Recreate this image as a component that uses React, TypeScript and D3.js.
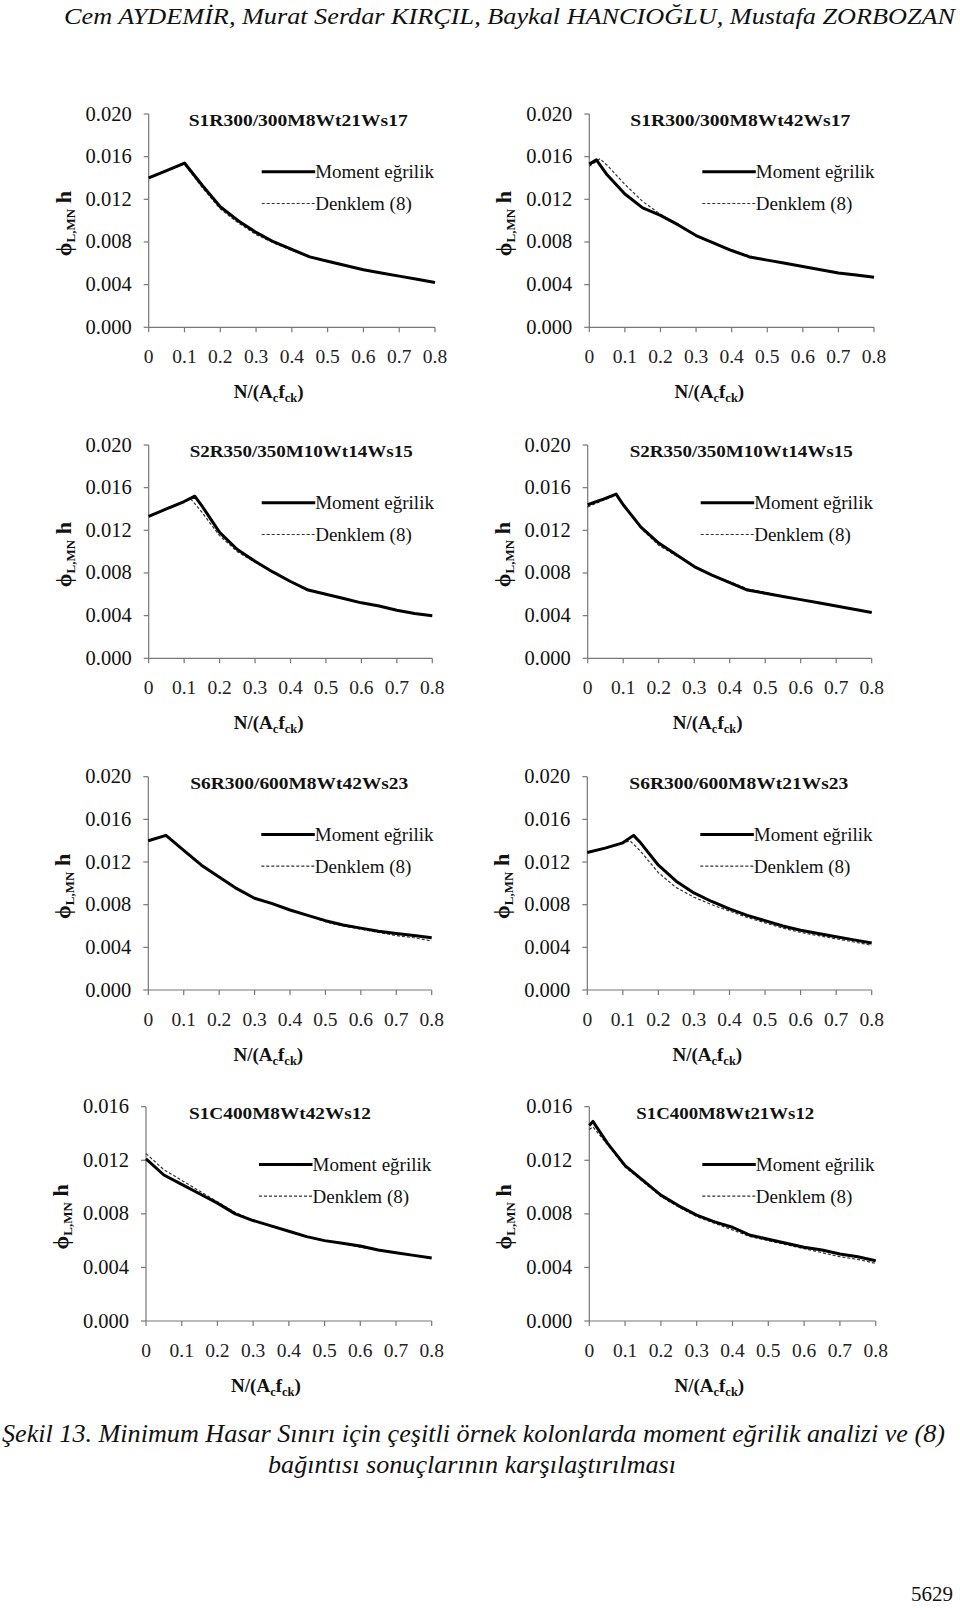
import React from "react";
import * as d3 from "d3";

// ---------- data ----------
const TITLES = [
  "S1R300/300M8Wt21Ws17",
  "S1R300/300M8Wt42Ws17",
  "S2R350/350M10Wt14Ws15",
  "S2R350/350M10Wt14Ws15",
  "S6R300/600M8Wt42Ws23",
  "S6R300/600M8Wt21Ws23",
  "S1C400M8Wt42Ws12",
  "S1C400M8Wt21Ws12",
];
const SERIES_NAMES = ["Moment eğrilik", "Denklem (8)"];
const X_TICKS = [0, 0.1, 0.2, 0.3, 0.4, 0.5, 0.6, 0.7, 0.8];
const Y_TICKS_A = [0, 0.004, 0.008, 0.012, 0.016, 0.02];
const Y_TICKS_B = [0, 0.004, 0.008, 0.012, 0.016];

const GRID = [0, 0.05, 0.1, 0.15, 0.2, 0.25, 0.3, 0.35, 0.4, 0.45, 0.5, 0.55, 0.6, 0.65, 0.7, 0.75, 0.8];
const TAIL = [0.2, 0.25, 0.3, 0.35, 0.4, 0.45, 0.5, 0.55, 0.6, 0.65, 0.7, 0.75, 0.8];

const P1_M_X = GRID;
const P1_M_Y = [0.0140, 0.0147, 0.0154, 0.0133, 0.0113, 0.0100, 0.0089, 0.0080, 0.0073, 0.0066, 0.0062, 0.0058, 0.0054, 0.0051, 0.0048, 0.0045, 0.0042];
const P1_D_X = GRID;
const P1_D_Y = [0.0140, 0.0147, 0.0153, 0.0131, 0.0111, 0.0098, 0.0087, 0.0079, 0.0072, 0.0066, 0.0062, 0.0058, 0.0054, 0.0051, 0.0048, 0.0045, 0.0042];

const P2_M_X = [0, 0.02, 0.05, 0.1, 0.15, ...TAIL];
const P2_M_Y = [0.0153, 0.0157, 0.0143, 0.0125, 0.0112, 0.0105, 0.0096, 0.0086, 0.0079, 0.0072, 0.0066, 0.0063, 0.0060, 0.0057, 0.0054, 0.0051, 0.0049, 0.0047];
const P2_D_X = [0, 0.03, 0.05, 0.1, 0.15, ...TAIL];
const P2_D_Y = [0.0151, 0.0158, 0.0152, 0.0134, 0.0118, 0.0106, 0.0096, 0.0086, 0.0079, 0.0072, 0.0067, 0.0063, 0.0060, 0.0057, 0.0054, 0.0051, 0.0049, 0.0047];

const P3_M_X = [0, 0.05, 0.1, 0.13, 0.15, ...TAIL];
const P3_M_Y = [0.0133, 0.0140, 0.0147, 0.0152, 0.0143, 0.0118, 0.0102, 0.0091, 0.0081, 0.0072, 0.0064, 0.0060, 0.0056, 0.0052, 0.0049, 0.0045, 0.0042, 0.0040];
const P3_D_X = [0, 0.05, 0.1, 0.12, 0.15, ...TAIL];
const P3_D_Y = [0.0133, 0.0140, 0.0147, 0.0149, 0.0137, 0.0115, 0.0100, 0.0090, 0.0081, 0.0072, 0.0064, 0.0060, 0.0056, 0.0052, 0.0049, 0.0045, 0.0042, 0.0040];

const P4_M_X = [0, 0.05, 0.08, 0.1, 0.15, ...TAIL];
const P4_M_Y = [0.0144, 0.0150, 0.0154, 0.0144, 0.0123, 0.0108, 0.0097, 0.0086, 0.0078, 0.0071, 0.0064, 0.0061, 0.0058, 0.0055, 0.0052, 0.0049, 0.0046, 0.0043];
const P4_D_X = [0, 0.05, 0.08, 0.1, 0.15, ...TAIL];
const P4_D_Y = [0.0142, 0.0149, 0.0153, 0.0144, 0.0122, 0.0106, 0.0096, 0.0086, 0.0078, 0.0072, 0.0065, 0.0062, 0.0058, 0.0055, 0.0052, 0.0049, 0.0046, 0.0043];

const P5_M_X = GRID;
const P5_M_Y = [0.0140, 0.0145, 0.0131, 0.0117, 0.0106, 0.0095, 0.0086, 0.0081, 0.0075, 0.0070, 0.0065, 0.0061, 0.0058, 0.0055, 0.0053, 0.0051, 0.0049];
const P5_D_X = GRID;
const P5_D_Y = [0.0140, 0.0145, 0.0131, 0.0117, 0.0106, 0.0095, 0.0086, 0.0081, 0.0075, 0.0070, 0.0064, 0.0060, 0.0057, 0.0054, 0.0051, 0.0049, 0.0046];

const P6_M_X = [0, 0.05, 0.1, 0.13, 0.15, ...TAIL];
const P6_M_Y = [0.0129, 0.0133, 0.0138, 0.0145, 0.0138, 0.0117, 0.0102, 0.0091, 0.0083, 0.0076, 0.0070, 0.0065, 0.0060, 0.0056, 0.0053, 0.0050, 0.0047, 0.0044];
const P6_D_X = [0, 0.05, 0.1, 0.12, 0.15, ...TAIL];
const P6_D_Y = [0.0129, 0.0133, 0.0138, 0.0140, 0.0130, 0.0110, 0.0096, 0.0087, 0.0080, 0.0074, 0.0068, 0.0063, 0.0058, 0.0054, 0.0051, 0.0048, 0.0045, 0.0042];

const P7_M_X = GRID;
const P7_M_Y = [0.0121, 0.0109, 0.0102, 0.0095, 0.0088, 0.0080, 0.0075, 0.0071, 0.0067, 0.0063, 0.0060, 0.0058, 0.0056, 0.0053, 0.0051, 0.0049, 0.0047];
const P7_D_X = GRID;
const P7_D_Y = [0.0125, 0.0113, 0.0105, 0.0097, 0.0089, 0.0081, 0.0075, 0.0071, 0.0067, 0.0063, 0.0060, 0.0058, 0.0055, 0.0053, 0.0051, 0.0049, 0.0047];

const P8_M_X = [0, 0.01, 0.05, 0.1, 0.15, ...TAIL];
const P8_M_Y = [0.0146, 0.0149, 0.0133, 0.0116, 0.0105, 0.0094, 0.0086, 0.0079, 0.0074, 0.0070, 0.0064, 0.0061, 0.0058, 0.0055, 0.0053, 0.0050, 0.0048, 0.0045];
const P8_D_X = [0, 0.01, 0.05, 0.1, 0.15, ...TAIL];
const P8_D_Y = [0.0143, 0.0145, 0.0132, 0.0115, 0.0104, 0.0093, 0.0085, 0.0078, 0.0073, 0.0068, 0.0063, 0.0060, 0.0057, 0.0054, 0.0051, 0.0048, 0.0046, 0.0043];

const MOMENT = [
  [P1_M_X, P1_M_Y], [P2_M_X, P2_M_Y], [P3_M_X, P3_M_Y], [P4_M_X, P4_M_Y],
  [P5_M_X, P5_M_Y], [P6_M_X, P6_M_Y], [P7_M_X, P7_M_Y], [P8_M_X, P8_M_Y],
];
const DENKLEM = [
  [P1_D_X, P1_D_Y], [P2_D_X, P2_D_Y], [P3_D_X, P3_D_Y], [P4_D_X, P4_D_Y],
  [P5_D_X, P5_D_Y], [P6_D_X, P6_D_Y], [P7_D_X, P7_D_Y], [P8_D_X, P8_D_Y],
];
const Y_MAX = [0.02, 0.02, 0.02, 0.02, 0.02, 0.02, 0.016, 0.016];

const HEADER = "Cem AYDEMİR, Murat Serdar KIRÇIL, Baykal HANCIOĞLU, Mustafa ZORBOZAN";
const CAPTION_1 = "Şekil 13. Minimum Hasar Sınırı için çeşitli örnek kolonlarda moment eğrilik analizi ve (8)";
const CAPTION_2 = "bağıntısı sonuçlarının karşılaştırılması";
const PAGE_NO = "5629";

// ---------- layout ----------
const LAYOUT = [
  { x0: 148.7, x1: 435, yT: 114, yB: 327.3, tdx: 40 },
  { x0: 589.3, x1: 874, yT: 114, yB: 327.3, tdx: 41 },
  { x0: 148.7, x1: 432.3, yT: 445, yB: 658.3, tdx: 41 },
  { x0: 587.7, x1: 871.7, yT: 445, yB: 658.3, tdx: 42 },
  { x0: 148.3, x1: 431.7, yT: 776.7, yB: 990, tdx: 42 },
  { x0: 587.3, x1: 871.7, yT: 776.7, yB: 990, tdx: 42 },
  { x0: 146, x1: 431.7, yT: 1106.7, yB: 1321, tdx: 43 },
  { x0: 589.3, x1: 875.7, yT: 1106.7, yB: 1321, tdx: 47 },
];
const TITLE_W = [219, 220, 223, 223, 218, 219, 182, 178];

const FONT = "'Liberation Serif', 'Times New Roman', serif";

function Panel({ i }: { i: number }) {
  const L = LAYOUT[i];
  const x = d3.scaleLinear().domain([0, 0.8]).range([L.x0, L.x1]);
  const y = d3.scaleLinear().domain([0, Y_MAX[i]]).range([L.yB, L.yT]);
  const yTicks = Y_MAX[i] > 0.017 ? Y_TICKS_A : Y_TICKS_B;
  const line = d3
    .line<[number, number]>()
    .x((d) => x(d[0]))
    .y((d) => y(d[1]));
  const toPts = (s: number[][]) => s[0].map((v, k) => [v, s[1][k]] as [number, number]);
  const mPath = line(toPts(MOMENT[i])) || "";
  const dPath = line(toPts(DENKLEM[i])) || "";
  const lx0 = L.x0 + 113;
  const lx1 = L.x0 + 166.5;
  const ly1 = L.yT + 57.7;
  const ly2 = L.yT + 89.5;
  const xLabelX = L.x0 + 120;
  const yMid = (L.yT + L.yB) / 2 + 3;
  const axisCol = "#777";
  return (
    <g>
      <line x1={L.x0} x2={L.x0} y1={L.yT} y2={L.yB} stroke={axisCol} strokeWidth={1.2} />
      <line x1={L.x0} x2={L.x1} y1={L.yB} y2={L.yB} stroke={axisCol} strokeWidth={1.2} />
      {yTicks.map((t) => (
        <g key={"y" + t}>
          <line x1={L.x0 - 5} x2={L.x0} y1={y(t)} y2={y(t)} stroke={axisCol} strokeWidth={1.2} />
          <text x={L.x0 - 17} y={y(t) + 6.5} textAnchor="end" fontSize={20.5} fontFamily={FONT} fill="#111">
            {t.toFixed(3)}
          </text>
        </g>
      ))}
      {X_TICKS.map((t) => (
        <g key={"x" + t}>
          <line x1={x(t)} x2={x(t)} y1={L.yB} y2={L.yB + 5} stroke={axisCol} strokeWidth={1.2} />
          <text x={x(t)} y={L.yB + 35.5} textAnchor="middle" fontSize={19.5} fontFamily={FONT} fill="#222">
            {t === 0 ? "0" : t.toFixed(1)}
          </text>
        </g>
      ))}
      <path d={dPath} fill="none" stroke="#333" strokeWidth={1.2} strokeDasharray="3,2" />
      <path d={mPath} fill="none" stroke="#000" strokeWidth={3} strokeLinejoin="round" />
      <text
        x={L.x0 + L.tdx}
        y={L.yT + 12}
        fontSize={17.5}
        fontWeight="bold"
        fontFamily={FONT}
        fill="#111"
        textLength={TITLE_W[i]}
        lengthAdjust="spacingAndGlyphs"
      >
        {TITLES[i]}
      </text>
      <line x1={lx0} x2={lx1} y1={ly1} y2={ly1} stroke="#000" strokeWidth={3} />
      <text x={lx1} y={ly1 + 6.6} fontSize={19} fontFamily={FONT} fill="#111">
        {SERIES_NAMES[0]}
      </text>
      <line x1={lx0} x2={lx1} y1={ly2} y2={ly2} stroke="#333" strokeWidth={1.2} strokeDasharray="3,2" />
      <text x={lx1} y={ly2 + 6.6} fontSize={19} fontFamily={FONT} fill="#111">
        {SERIES_NAMES[1]}
      </text>
      <text x={xLabelX} y={L.yB + 71} textAnchor="middle" fontSize={19} fontWeight="bold" fontFamily={FONT} fill="#111">
        <tspan>N/(A</tspan>
        <tspan fontSize={12.5} dy={4}>c</tspan>
        <tspan dy={-4}>f</tspan>
        <tspan fontSize={12.5} dy={4}>ck</tspan>
        <tspan dy={-4}>)</tspan>
      </text>
      <text
        transform={`translate(${L.x0 - 78},${yMid}) rotate(-90)`}
        textAnchor="middle"
        fontSize={22}
        fontWeight="bold"
        fontFamily={FONT}
        fill="#111"
      >
        <tspan>ϕ</tspan>
        <tspan fontSize={13} dy={4}>L,MN</tspan>
        <tspan dy={-4}> h</tspan>
      </text>
    </g>
  );
}

export default function App() {
  return (
    <div style={{ position: "absolute", left: 0, top: 0 }}>
      <svg width={960} height={1608} viewBox="0 0 960 1608" style={{ display: "block", background: "#fff" }}>
        <rect x={0} y={0} width={960} height={1608} fill="#fff" />
        <text
          x={64}
          y={24}
          fontSize={24}
          fontStyle="italic"
          fontFamily={FONT}
          fill="#111"
          textLength={891}
          lengthAdjust="spacingAndGlyphs"
        >
          {HEADER}
        </text>
        {LAYOUT.map((_, i) => (
          <Panel key={i} i={i} />
        ))}
        <text
          x={2}
          y={1442}
          fontSize={26}
          fontStyle="italic"
          fontFamily={FONT}
          fill="#111"
          textLength={943}
          lengthAdjust="spacingAndGlyphs"
        >
          {CAPTION_1}
        </text>
        <text
          x={268}
          y={1473}
          fontSize={26}
          fontStyle="italic"
          fontFamily={FONT}
          fill="#111"
          textLength={408}
          lengthAdjust="spacingAndGlyphs"
        >
          {CAPTION_2}
        </text>
        <text x={953} y={1601} textAnchor="end" fontSize={21} fontFamily={FONT} fill="#111">
          {PAGE_NO}
        </text>
      </svg>
    </div>
  );
}
